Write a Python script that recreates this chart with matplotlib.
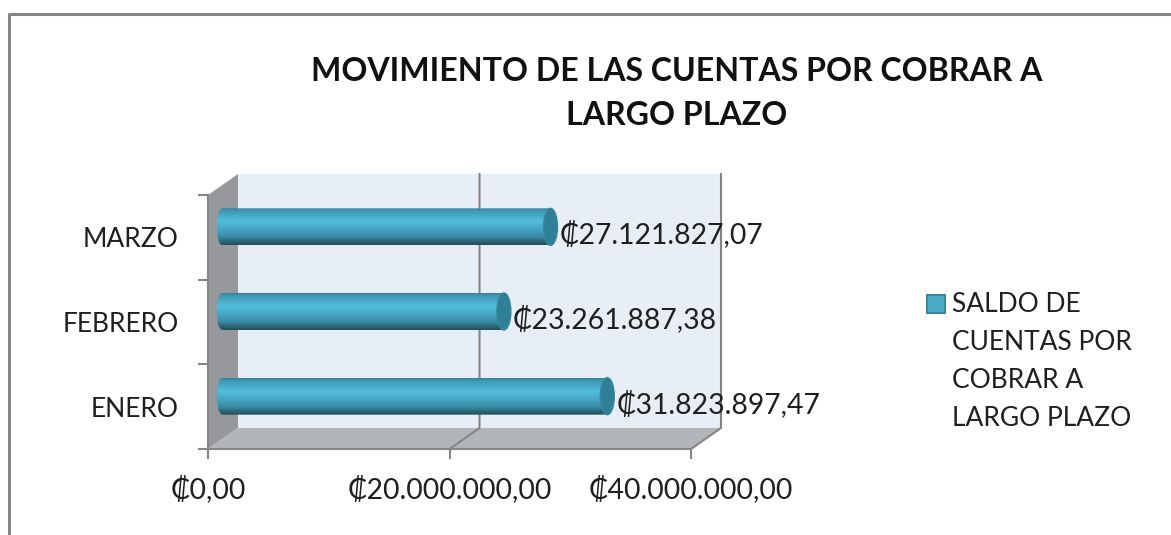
import numpy as np
import matplotlib
matplotlib.use("Agg")
import matplotlib.pyplot as plt
from matplotlib.colors import LinearSegmentedColormap
from matplotlib.lines import Line2D
from matplotlib.patches import Ellipse, PathPatch, Polygon, Rectangle
from matplotlib.path import Path

plt.rcParams["font.family"] = ["Lato", "DejaVu Sans"]

MESES = ["ENERO", "FEBRERO", "MARZO"]
SALDOS = [31823897.47, 23261887.38, 27121827.07]
TICKS_X = [0, 20000000, 40000000]
TITULO = "MOVIMIENTO DE LAS CUENTAS POR COBRAR A\nLARGO PLAZO"
LEYENDA = "SALDO DE\nCUENTAS POR\nCOBRAR A\nLARGO PLAZO"

W, H = 1171, 535
X0, X1 = 208, 691
Y_BOTTOM, Y_TOP = 449, 195
XMAX = 40000000
GRIS = "#858585"

# unidades de dados por pixel
PX = XMAX / (X1 - X0)
PY = 3 / (Y_BOTTOM - Y_TOP)
DX, DY = 30 * PX, 21 * PY


def moeda(v):
    s = f"{v:,.2f}".replace(",", "#").replace(".", ",").replace("#", ".")
    return "\u20a1" + s


def barra(ax, y, valor, cmap):
    # cilindro no meio da profundidade
    x0 = DX / 2
    x1 = valor + DX / 2
    yc = y + 0.5 + DY / 2
    alt = 37 * PY
    rx = 6 * PX
    top, bot = yc + alt / 2, yc - alt / 2
    k = 0.55
    verts = [
        (x0, bot), (x1, bot), (x1, top), (x0, top),
        (x0 - rx * k * 1.3, top), (x0 - rx, yc + alt * 0.3), (x0 - rx, yc),
        (x0 - rx, yc - alt * 0.3), (x0 - rx * k * 1.3, bot), (x0, bot),
    ]
    codes = [Path.MOVETO, Path.LINETO, Path.LINETO, Path.LINETO,
             Path.CURVE4, Path.CURVE4, Path.CURVE4,
             Path.CURVE4, Path.CURVE4, Path.CURVE4]
    contorno = PathPatch(Path(verts, codes), fc="none", ec="none", zorder=3, clip_on=False)
    ax.add_patch(contorno)
    grad = np.linspace(0, 1, 64).reshape(-1, 1)
    im = ax.imshow(grad, extent=(x0 - rx, x1, bot, top), origin="upper", cmap=cmap,
                   aspect="auto", zorder=3, interpolation="bilinear")
    im.set_clip_path(contorno)
    ax.add_patch(Ellipse((x1, yc), 14 * PX, alt, fc="#2f7f97", ec="#37889f", lw=1,
                         zorder=4, clip_on=False))


fig = plt.figure(figsize=(W / 100, H / 100), dpi=100, facecolor="white")
ax = fig.add_axes([X0 / W, 1 - Y_BOTTOM / H, (X1 - X0) / W, (Y_BOTTOM - Y_TOP) / H])
ax.patch.set_visible(False)

cmap = LinearSegmentedColormap.from_list("cilindro", [
    (0.0, "#3a8099"), (0.06, "#3f97b1"), (0.35, "#52bddc"), (0.55, "#47a9c7"),
    (0.78, "#3a8ba5"), (0.92, "#2b6273"), (1.0, "#234f5e"),
])

# paredes e piso
ax.add_patch(Rectangle((DX, DY), XMAX, 3, fc="#e8eef5", ec="none", zorder=0, clip_on=False))
ax.add_patch(Polygon([(0, 0), (DX, DY), (DX, 3 + DY), (0, 3)], fc="#96989b", ec="none",
                     zorder=1, clip_on=False))
ax.add_patch(Polygon([(0, 0), (XMAX, 0), (XMAX + DX, DY), (DX, DY)], fc="#b2b6ba", ec="none",
                     zorder=1, clip_on=False))

# grade
for t in TICKS_X[1:]:
    ax.plot([t, t + DX, t + DX], [0, DY, 3 + DY], color=GRIS, lw=1.5, zorder=2, clip_on=False)

for i, v in enumerate(SALDOS):
    barra(ax, i, v, cmap)
    ax.annotate(moeda(v), (v, i + 0.5), xytext=(24, 3), textcoords="offset pixels",
                fontsize=20.4, color="#1f1f1f", va="center", ha="left", zorder=5,
                annotation_clip=False)

ax.set_xlim(0, XMAX)
ax.set_ylim(0, 3)
ax.set_xticks(TICKS_X)
ax.set_xticklabels([moeda(t) for t in TICKS_X], fontsize=20.4, color="#1f1f1f")
ax.set_yticks([0, 1, 2, 3])
ax.set_yticklabels([])
ax.set_yticks([0.5, 1.5, 2.5], minor=True)
ax.set_yticklabels(MESES, minor=True, fontsize=19, color="#1f1f1f")
ax.tick_params(axis="both", which="major", length=7, width=1.5, color=GRIS)
ax.tick_params(axis="x", pad=12)
ax.tick_params(axis="y", which="minor", length=0, pad=21)
for lado in ["top", "right"]:
    ax.spines[lado].set_visible(False)
for lado in ["left", "bottom"]:
    ax.spines[lado].set_color(GRIS)
    ax.spines[lado].set_linewidth(1.5)
    ax.spines[lado].set_zorder(2)

# moldura do grafico
fig.add_artist(Line2D([9 / W, 9 / W, 1], [0, 1 - 14 / H, 1 - 14 / H], color=GRIS, lw=2.2))

fig.text(677 / W, 1 - 93.5 / H, TITULO, ha="center", va="center", fontsize=23.1,
         fontweight="bold", color="#111111", linespacing=1.62)

# legenda
fig.add_artist(Rectangle((927 / W, 1 - 312.5 / H), 18 / W, 18 / H, fc="#4bacc6", ec="#3f87a0",
                         lw=1.5, transform=fig.transFigure))
fig.text(952 / W, 1 - 362 / H, LEYENDA, ha="left", va="center", fontsize=19,
         color="#1f1f1f", linespacing=1.65)

fig.savefig("out.png", dpi=100)
